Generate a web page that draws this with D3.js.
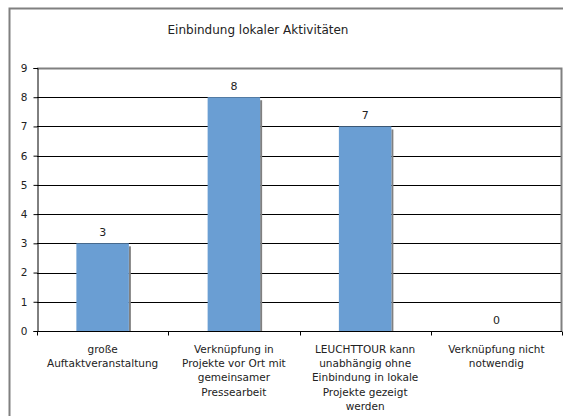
<!DOCTYPE html>
<html>
<head>
<meta charset="utf-8">
<script src="https://cdn.jsdelivr.net/npm/d3@7"></script>
<style>
	body { margin: 0; background: #fff; }
	svg { display: block; font-family: "DejaVu Sans", Verdana, sans-serif; }
</style>
</head>
<body>
<div id="chart"></div>
<script>
// chart data
var title = "Einbindung lokaler Aktivitäten";
var categories = [
	"große\nAuftaktveranstaltung",
	"Verknüpfung in\nProjekte vor Ort mit\ngemeinsamer\nPressearbeit",
	"LEUCHTTOUR kann\nunabhängig ohne\nEinbindung in lokale\nProjekte gezeigt\nwerden",
	"Verknüpfung nicht\nnotwendig"
];
var values = [3, 8, 7, 0];
var yTicks = [0, 1, 2, 3, 4, 5, 6, 7, 8, 9];

(function() {
	var width = 563, height = 416;
	var plot = { left: 37, top: 68, right: 562, bottom: 331 };
	var barColor = "#6A9ED3";
	var textColor = "#222";

	var svg = d3.select("#chart").append("svg")
		.attr("width", width)
		.attr("height", height);

	// outer chart frame
	svg.append("rect")
		.attr("x", 9.5)
		.attr("y", 8.5)
		.attr("width", width + 20)
		.attr("height", height + 20)
		.attr("fill", "none")
		.attr("stroke", "#808080")
		.attr("stroke-width", 2);

	svg.append("text")
		.attr("x", 258)
		.attr("y", 34)
		.attr("text-anchor", "middle")
		.attr("font-size", "12px")
		.attr("fill", textColor)
		.text(title);

	var x = d3.scaleBand()
		.domain(categories)
		.range([plot.left, plot.right])
		.paddingInner(0.6)
		.paddingOuter(0.3);
	var cat = d3.scaleBand()
		.domain(categories)
		.range([plot.left, plot.right]);
	var y = d3.scaleLinear()
		.domain([0, 9])
		.range([plot.bottom, plot.top]);

	// grid lines
	svg.append("g")
		.selectAll("line")
		.data(yTicks.filter(function(d) { return d > 0 && d < 9; })).enter()
		.append("line")
			.attr("x1", plot.left)
			.attr("x2", plot.right)
			.attr("y1", function(d) { return Math.round(y(d)) + 0.5; })
			.attr("y2", function(d) { return Math.round(y(d)) + 0.5; })
			.attr("stroke", "#000")
			.attr("stroke-width", 1);

	// plot area border (top and right)
	svg.append("path")
		.attr("d", "M" + plot.left + "," + (plot.top + 0.5) + "H" + (plot.right - 0.5) + "V" + plot.bottom)
		.attr("fill", "none")
		.attr("stroke", "#808080")
		.attr("stroke-width", 2);

	// bar shadows
	svg.append("g")
		.selectAll("rect")
		.data(values).enter()
		.append("rect")
			.attr("x", function(d, i) { return x(categories[i]) + x.bandwidth(); })
			.attr("y", function(d) { return y(d) + 3; })
			.attr("width", 2)
			.attr("height", function(d) { return Math.max(0, plot.bottom - y(d) - 3); })
			.attr("fill", "#808080");

	// bars
	svg.append("g")
		.selectAll("rect")
		.data(values).enter()
		.append("rect")
			.attr("x", function(d, i) { return x(categories[i]); })
			.attr("y", function(d) { return y(d); })
			.attr("width", x.bandwidth())
			.attr("height", function(d) { return plot.bottom - y(d); })
			.attr("fill", barColor);

	// value labels
	svg.append("g")
		.selectAll("text")
		.data(values).enter()
		.append("text")
			.attr("x", function(d, i) { return x(categories[i]) + x.bandwidth() / 2; })
			.attr("y", function(d) { return y(d) - 7.5; })
			.attr("text-anchor", "middle")
			.attr("font-size", "11px")
			.attr("fill", textColor)
			.text(function(d) { return d; });

	// y axis
	var yAxis = svg.append("g")
		.attr("transform", "translate(" + (plot.left + 0.5) + ",0)")
		.call(d3.axisLeft(y).tickValues(yTicks).tickSize(4).tickPadding(6).tickFormat(d3.format("d")));
	yAxis.select(".domain").attr("stroke", "#000");
	yAxis.selectAll(".tick line").attr("stroke", "#000");
	yAxis.selectAll("text")
		.attr("font-family", "DejaVu Sans, Verdana, sans-serif")
		.attr("font-size", "10.5px")
		.attr("fill", textColor);

	// x axis
	var xAxisG = svg.append("g")
		.attr("transform", "translate(0," + (plot.bottom + 0.5) + ")");
	xAxisG.append("line")
		.attr("x1", plot.left)
		.attr("x2", plot.right)
		.attr("stroke", "#000");
	xAxisG.selectAll("line.tick")
		.data(categories.concat(["end"])).enter()
		.append("line")
			.attr("class", "tick")
			.attr("x1", function(d, i) { return Math.round(plot.left + cat.bandwidth() * i) + 0.5; })
			.attr("x2", function(d, i) { return Math.round(plot.left + cat.bandwidth() * i) + 0.5; })
			.attr("y1", 0)
			.attr("y2", 4)
			.attr("stroke", "#000");

	var labels = xAxisG.selectAll("text")
		.data(categories).enter()
		.append("text")
			.attr("text-anchor", "middle")
			.attr("font-size", "10.5px")
			.attr("fill", textColor);
	labels.each(function(d) {
		var t = d3.select(this);
		var cx = cat(d) + cat.bandwidth() / 2;
		d.split("\n").forEach(function(line, i) {
			t.append("tspan")
				.attr("x", cx)
				.attr("y", 21 + i * 14.4)
				.text(line);
		});
	});
})();
</script>
</body>
</html>
